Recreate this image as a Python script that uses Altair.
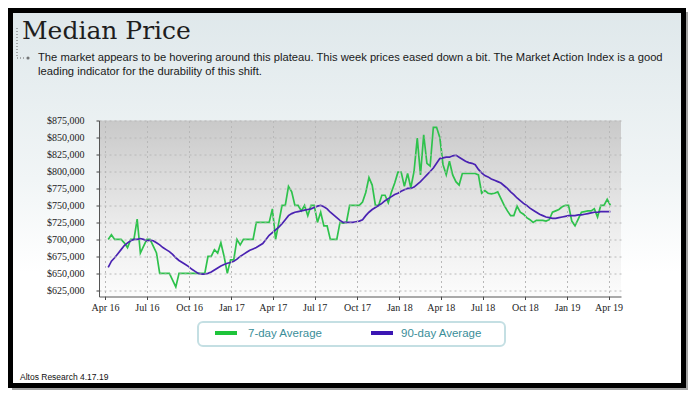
import altair as alt
import pandas as pd

# ---------------- data (values in $ thousands, weekly) ----------------
start_date = "2016-04-08"
avg7 = [700, 707, 700, 700, 700, 695, 688, 700, 700, 730,
        680, 690, 700, 700, 690, 680, 650, 650, 650, 650,
        640, 630, 650, 650, 650, 650, 650, 650, 650, 650,
        650, 675, 675, 685, 680, 695, 675, 650, 670, 670,
        700, 692, 700, 700, 700, 700, 725, 725, 725, 725,
        725, 745, 700, 725, 750, 750, 778, 770, 750, 750,
        742, 750, 735, 750, 750, 725, 740, 720, 720, 700,
        700, 700, 725, 724, 725, 750, 750, 750, 750, 755,
        769, 791, 780, 750, 750, 765, 765, 754, 770, 783,
        799, 799, 778, 797, 776, 800, 849, 795, 854, 812,
        808, 865, 865, 850, 810, 795, 815, 795, 785, 780,
        797, 797, 797, 797, 797, 795, 768, 772, 768, 767,
        768, 770, 760, 750, 742, 735, 735, 749, 740, 737,
        732, 729, 725, 728, 728, 728, 727, 729, 740, 742,
        744, 748, 750, 750, 727, 720, 730, 740, 741, 742,
        742, 745, 733, 750, 750, 759, 750]
avg90 = [659, 668, 673, 679, 685, 691, 695, 698, 700, 700,
         701, 700, 698, 699, 698, 695, 692, 688, 685, 682,
         678, 673, 669, 666, 663, 660, 656, 653, 650, 649,
         649, 650, 652, 655, 658, 661, 663, 665, 666, 668,
         671, 675, 678, 681, 684, 686, 688, 691, 694, 700,
         706, 710, 714, 718, 723, 729, 735, 738, 740, 741,
         742, 743, 744, 745, 747, 749, 750, 748, 745, 740,
         736, 732, 728, 725, 725, 725, 725, 726, 727, 729,
         735, 740, 744, 747, 750, 753, 757, 760, 763, 766,
         768, 771, 773, 775, 775, 777, 781, 785, 790, 795,
         800, 805, 812, 819, 820, 821, 821, 823, 824, 821,
         818, 815, 813, 812, 810, 803, 798, 794, 792, 789,
         787, 785, 783, 779, 775, 770, 766, 761, 757, 753,
         750, 746, 743, 740, 737, 735, 733, 732, 731, 731,
         732, 733, 734, 735, 735, 735, 736, 736, 737, 738,
         739, 740, 740, 741, 741, 741, 741]
series_names = ["7-day Average", "90-day Average"]
series_colors = ["#2ec24c", "#4a22b2"]
x_tick_months = [(2016, 4), (2016, 7), (2016, 10), (2017, 1), (2017, 4), (2017, 7),
                 (2017, 10), (2018, 1), (2018, 4), (2018, 7), (2018, 10), (2019, 1), (2019, 4)]
y_ticks = [625000, 650000, 675000, 700000, 725000, 750000, 775000, 800000, 825000, 850000, 875000]

title_text = "Median Price"
subtitle_lines = [
    "The market appears to be hovering around this plateau. This week prices eased down a bit. The Market Action Index is a good",
    "leading indicator for the durability of this shift.",
]
footer_text = "Altos Research 4.17.19"

# ---------------- table ----------------
n = len(avg7)
dates = pd.date_range(start_date, periods=n, freq="7D")
df = pd.DataFrame({
    "date": list(dates) * 2,
    "value": [v * 1000 for v in avg7] + [v * 1000 for v in avg90],
    "series": [series_names[0]] * n + [series_names[1]] * n,
})
one = pd.DataFrame({"k": [0]})

W, H = 522, 176
SANS = "Liberation Sans, Arial, sans-serif"
SERIF = "Liberation Serif, DejaVu Serif, serif"


def rect(x, x2, y, y2, **kw):
    return alt.Chart(one).mark_rect(**kw).encode(
        x=alt.value(x), x2=alt.value(x2), y=alt.value(y), y2=alt.value(y2))


def text(x, y, s, **kw):
    return alt.Chart(one).mark_text(text=s, **kw).encode(x=alt.value(x), y=alt.value(y))


def rule(x, y, x2=None, y2=None, **kw):
    enc = dict(x=alt.value(x), y=alt.value(y))
    if x2 is not None:
        enc["x2"] = alt.value(x2)
    if y2 is not None:
        enc["y2"] = alt.value(y2)
    return alt.Chart(one).mark_rule(**kw).encode(**enc)


slide_grad = alt.LinearGradient(
    gradient="linear", x1=0, x2=0, y1=0, y2=1,
    stops=[alt.GradientStop(offset=0, color="#dfe8eb"),
           alt.GradientStop(offset=0.45, color="#f1f5f6"),
           alt.GradientStop(offset=0.7, color="#ffffff"),
           alt.GradientStop(offset=1, color="#ffffff")])
plot_grad = alt.LinearGradient(
    gradient="linear", x1=0, x2=0, y1=0, y2=1,
    stops=[alt.GradientStop(offset=0, color="#c9c9c9"),
           alt.GradientStop(offset=0.6, color="#ececec"),
           alt.GradientStop(offset=1, color="#fcfcfc")])

shadow = rect(-87, 589, -108.5, 269.5, color="#8c8c8c", opacity=0.8)
frame = rect(-88.5, 584.5, -110, 265, fill=slide_grad, stroke="#000000", strokeWidth=5)
title = text(-77, -82, title_text, align="left", baseline="alphabetic",
             font="DejaVu Serif", fontSize=25, color="#1e1e1e")
sub1 = text(-61, -59.5, subtitle_lines[0], align="left", baseline="alphabetic",
            font=SANS, fontSize=11.2, color="#1a1a1a")
sub2 = text(-61, -45.5, subtitle_lines[1], align="left", baseline="alphabetic",
            font=SANS, fontSize=11.2, color="#1a1a1a")
br_v = rule(-82, -92.5, y2=-62.5, color="#666666", strokeDash=[1, 2], strokeWidth=1)
br_h = rule(-82, -62.5, x2=-75, color="#666666", strokeDash=[1, 2], strokeWidth=1)
bullet = alt.Chart(one).mark_point(filled=True, size=10, color="#444444").encode(
    x=alt.value(-71), y=alt.value(-62.5))

plot_bg = rect(0, W, 0, H, fill=plot_grad)

lines = alt.Chart(df).mark_line(strokeWidth=1.7, clip=True).encode(
    x=alt.X("date:T",
            scale=alt.Scale(domain=[alt.DateTime(year=2016, month=3, date=19),
                                    alt.DateTime(year=2019, month=4, date=28)]),
            axis=alt.Axis(values=[alt.DateTime(year=y, month=m, date=1) for y, m in x_tick_months],
                          format="%b %y", title=None, grid=True, gridColor="#b8b8b8",
                          gridDash=[2, 3], gridWidth=1, domainColor="#555555",
                          tickColor="#444444", tickSize=3, labelPadding=3,
                          labelFont=SERIF, labelFontSize=10, labelColor="#222222",
                          labelFlush=False, zindex=1)),
    y=alt.Y("value:Q",
            scale=alt.Scale(domain=[616000, 875000], nice=False, zero=False),
            axis=alt.Axis(values=y_ticks, format="$,.0f", title=None, grid=True,
                          gridColor="#b8b8b8", gridDash=[2, 3], gridWidth=1,
                          domainColor="#555555", tickColor="#444444", tickSize=3,
                          labelPadding=12, labelFont=SERIF, labelFontSize=10,
                          labelColor="#222222", zindex=1)),
    color=alt.Color("series:N", scale=alt.Scale(domain=series_names, range=series_colors),
                    legend=None),
)

legend_box = rect(99, 406, 201.5, 225.5, fill="#ffffff", stroke="#c4dfe3", strokeWidth=2,
                  cornerRadius=5)
sw1 = rule(116, 212.5, x2=138, color="#1ec43a", strokeWidth=4)
sw2 = rule(272, 212.5, x2=294, color="#3b16b3", strokeWidth=4)
lab1 = text(149, 213, series_names[0], align="left", baseline="middle", font=SANS,
            fontSize=11.5, color="#3a8e99")
lab2 = text(302, 213, series_names[1], align="left", baseline="middle", font=SANS,
            fontSize=11.5, color="#3a8e99")
footer = text(-79, 259.5, footer_text, align="left", baseline="alphabetic", font=SANS,
              fontSize=8.5, color="#111111")

chart = alt.layer(
    shadow, frame, br_v, br_h, bullet, title, sub1, sub2, plot_bg, lines,
    legend_box, sw1, sw2, lab1, lab2, footer,
).properties(
    width=W, height=H,
    padding={"left": 91, "top": 112.5, "right": 67, "bottom": 93.5},
    autosize=alt.AutoSizeParams(type="none"),
    background="#ffffff",
).configure_view(stroke=None)

chart.save("out.html", embed_options={"renderer": "svg", "actions": False})
